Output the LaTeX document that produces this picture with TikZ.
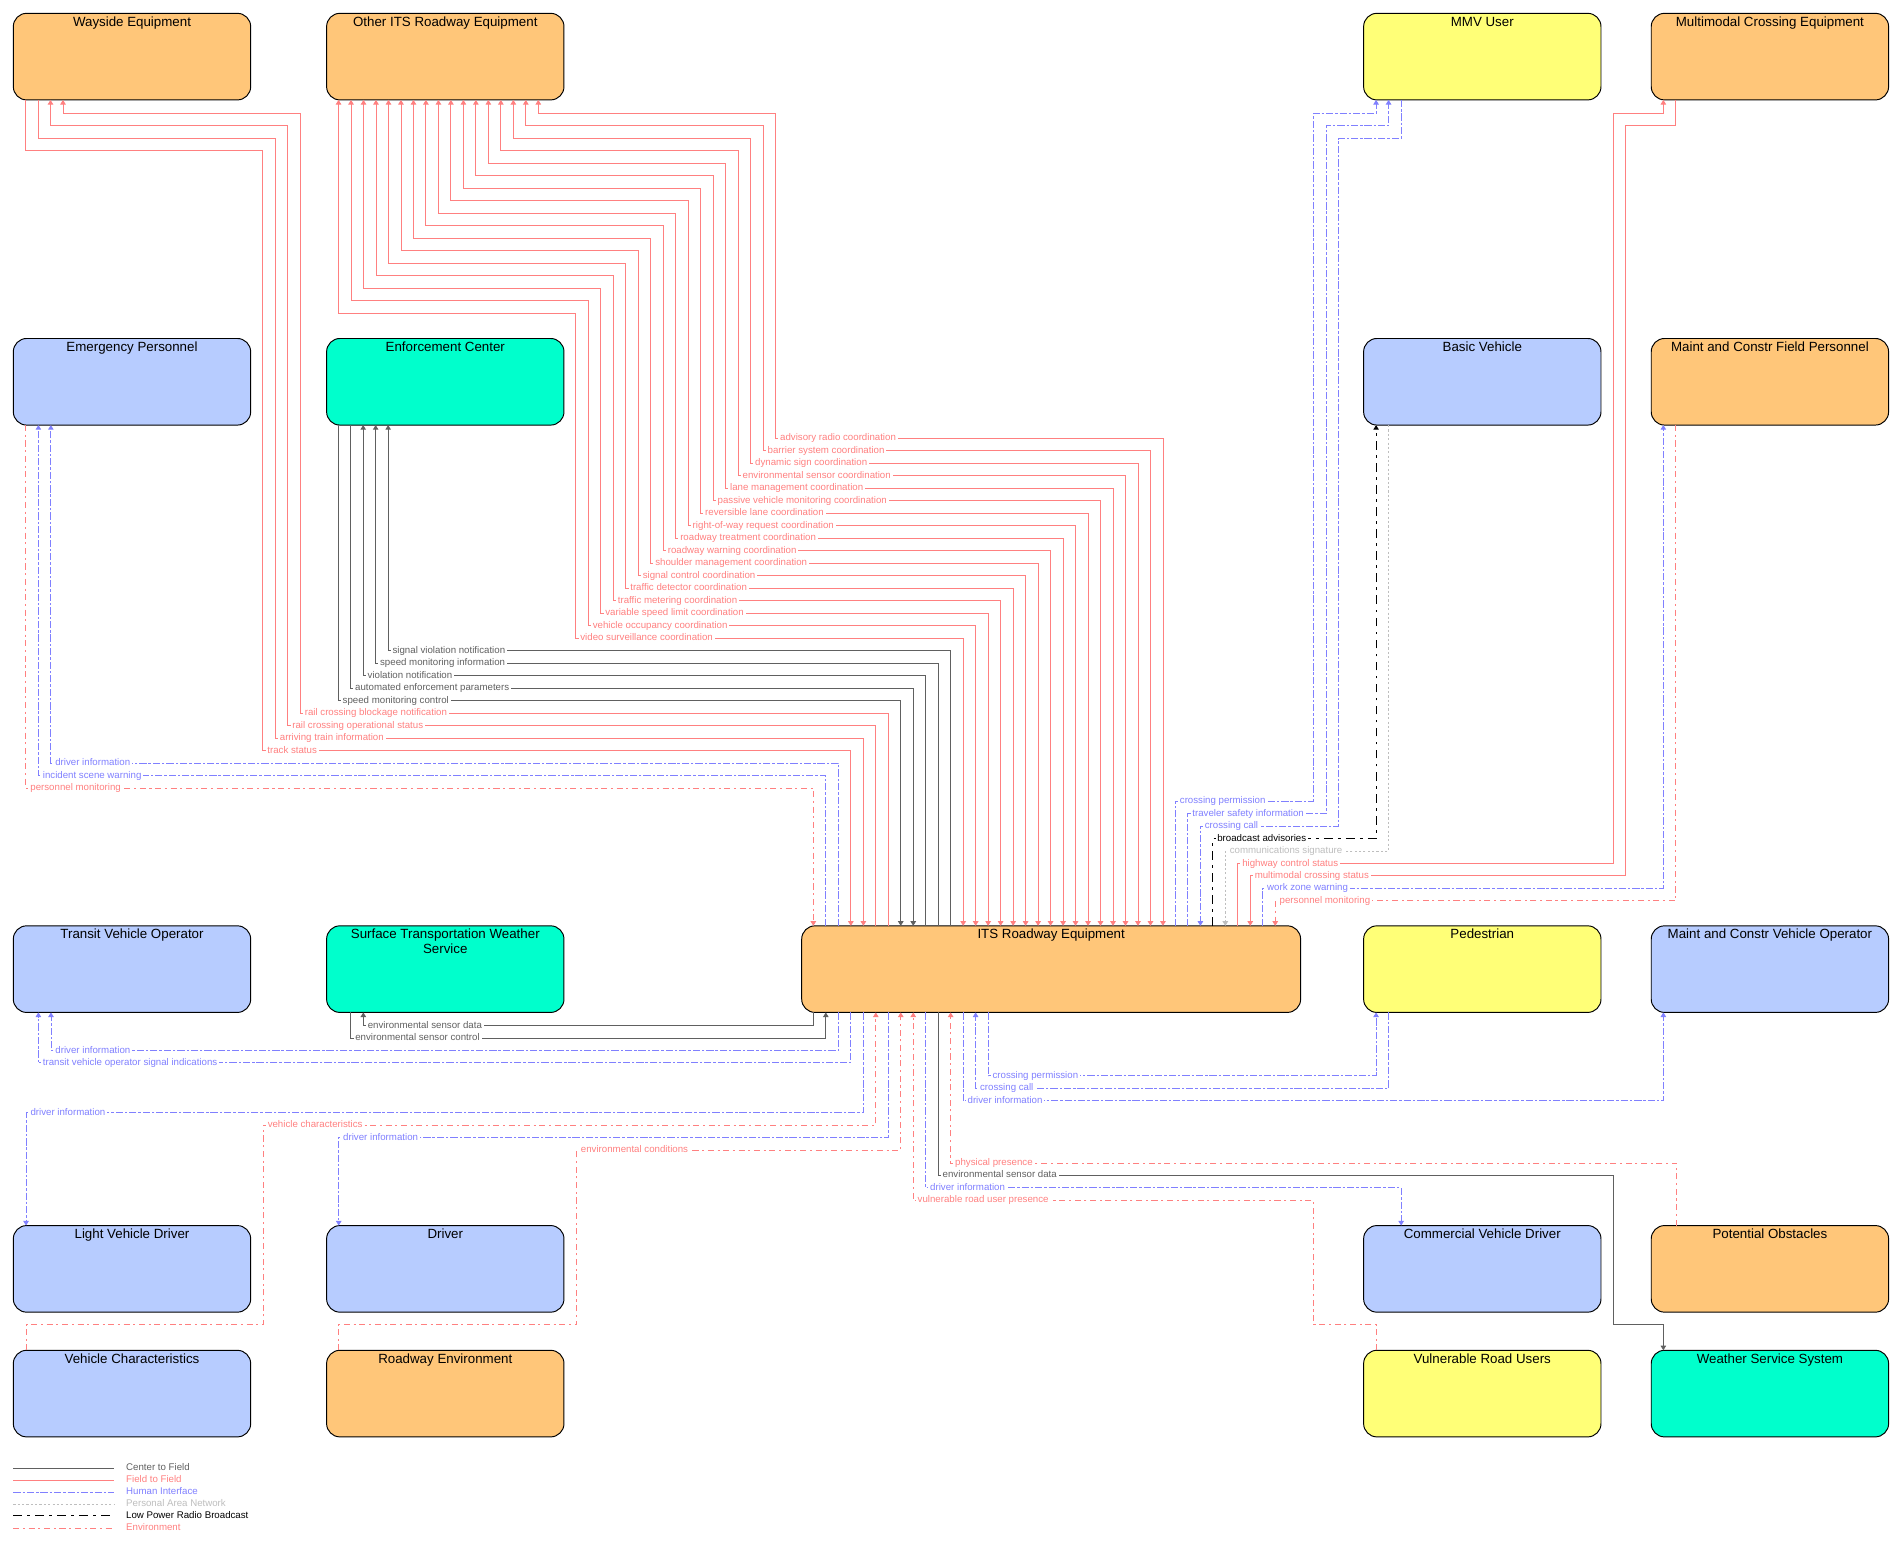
\documentclass[tikz,border=0pt]{standalone}
\usepackage{fontspec}
\setmainfont{Liberation Sans}
\usetikzlibrary{arrows.meta}
\definecolor{orF}{RGB}{255,198,121}
\definecolor{blF}{RGB}{183,204,255}
\definecolor{yeF}{RGB}{255,255,119}
\definecolor{teF}{RGB}{0,255,204}
\definecolor{c2fC}{RGB}{96,96,96}
\definecolor{f2fC}{RGB}{255,128,128}
\definecolor{hiC}{RGB}{128,128,255}
\definecolor{panC}{RGB}{190,190,190}
\definecolor{envC}{RGB}{255,128,128}
\newcommand\bxt[2][196]{\parbox[t][71.5pt][t]{#1pt}{\centering\rule{0pt}{10.5pt}#2}}
\def\dd{10.31}
\begin{document}
\begin{tikzpicture}[x=1pt,y=-1pt,>={Triangle[width=4.5pt,length=3.8pt]},
  box/.style={draw=black,line width=0.8pt,rounded corners=11pt,inner sep=0pt,outer sep=0pt,anchor=north west,font=\fontsize{11}{12}\selectfont},
  cl/.style={line width=0.75pt},
  c2f/.style={cl,draw=c2fC},
  f2f/.style={cl,draw=f2fC},
  hi/.style={cl,draw=hiC,dash pattern=on 6pt off 1.6pt on 2pt off 1.6pt},
  pan/.style={cl,draw=panC,dash pattern=on 1.8pt off 1.8pt},
  lprb/.style={cl,draw=black,dash pattern=on 7.2pt off 4.4pt on 2.2pt off 4.4pt},
  env/.style={cl,draw=envC,dash pattern=on 5pt off 3pt on 1.7pt off 3pt},
  lbl/.style={font=\fontsize{8}{9}\selectfont,fill=white,inner xsep=1.5pt,inner ysep=0.6pt,anchor=west,text height=5.8pt,text depth=1.6pt},
  lgt/.style={font=\fontsize{8}{9}\selectfont,inner xsep=1.5pt,inner ysep=0.6pt,anchor=west,text height=5.8pt,text depth=1.6pt}]
\fill[white] (0,0) rectangle (1568.1,1277.5);
\useasboundingbox (0,0) rectangle (1568.1,1277.5);

% ---------- boxes ----------
\node[box,fill=orF] (way)  at (11,11)     {\bxt{Wayside Equipment}};
\node[box,fill=orF] (oits) at (269.7,11)  {\bxt{Other ITS Roadway Equipment}};
\node[box,fill=yeF] (mmv)  at (1126,11)   {\bxt{MMV User}};
\node[box,fill=orF] (mce)  at (1363.5,11) {\bxt{Multimodal Crossing Equipment}};
\node[box,fill=blF] (ep)   at (11,279.5)     {\bxt{Emergency Personnel}};
\node[box,fill=teF] (ec)   at (269.7,279.5)  {\bxt{Enforcement Center}};
\node[box,fill=blF] (bv)   at (1126,279.5)   {\bxt{Basic Vehicle}};
\node[box,fill=orF] (mcfp) at (1363.5,279.5) {\bxt{Maint and Constr Field Personnel}};
\node[box,fill=blF] (tvo)  at (11,764.5)     {\bxt{Transit Vehicle Operator}};
\node[box,fill=teF] (stws) at (269.7,764.5)  {\bxt{Surface Transportation Weather\\Service}};
\node[box,fill=orF] (its)  at (662,764.5)    {\bxt[412]{ITS Roadway Equipment}};
\node[box,fill=yeF] (ped)  at (1126,764.5)   {\bxt{Pedestrian}};
\node[box,fill=blF] (mcvo) at (1363.5,764.5) {\bxt{Maint and Constr Vehicle Operator}};
\node[box,fill=blF] (lvd)  at (11,1012)      {\bxt{Light Vehicle Driver}};
\node[box,fill=blF] (drv)  at (269.7,1012)   {\bxt{Driver}};
\node[box,fill=blF] (cvd)  at (1126,1012)    {\bxt{Commercial Vehicle Driver}};
\node[box,fill=orF] (po)   at (1363.5,1012)  {\bxt{Potential Obstacles}};
\node[box,fill=blF] (vc)   at (11,1115)      {\bxt{Vehicle Characteristics}};
\node[box,fill=orF] (re)   at (269.7,1115)   {\bxt{Roadway Environment}};
\node[box,fill=yeF] (vru)  at (1126,1115)    {\bxt{Vulnerable Road Users}};
\node[box,fill=teF] (wss)  at (1363.5,1115)  {\bxt{Weather Service System}};

% ---------- Other ITS Roadway Equipment ----------
\foreach \k/\t in {0/advisory radio coordination,1/barrier system coordination,2/dynamic sign coordination,3/environmental sensor coordination,4/lane management coordination,5/passive vehicle monitoring coordination,6/reversible lane coordination,7/right-of-way request coordination,8/roadway treatment coordination,9/roadway warning coordination,10/shoulder management coordination,11/signal control coordination,12/traffic detector coordination,13/traffic metering coordination,14/variable speed limit coordination,15/vehicle occupancy coordination,16/video surveillance coordination}{
  \pgfmathsetmacro\xa{444.5-\dd*\k}
  \pgfmathsetmacro\ya{93.6+\dd*\k}
  \pgfmathsetmacro\xb{640.5-\dd*\k}
  \pgfmathsetmacro\yb{362+\dd*\k}
  \pgfmathsetmacro\xc{960.3-\dd*\k}
  \draw[f2f,<->] (\xa,0 |- oits.south) |- (\xb,\ya) |- (\xc,\yb) -- (\xc,0 |- its.north);
  \node[lbl,text=f2fC] (lo\k) at (\xb+2,\yb) {\t};
}

% ---------- Wayside Equipment ----------
\draw[f2f,->] (733.5,0 |- its.north) |- (248,588.8) |- (52,93.6) -- (52,0 |- way.south);
\node[lbl,text=f2fC] (lw0) at (250,588.8) {rail crossing blockage notification};
\draw[f2f,->] (723.2,0 |- its.north) |- (237.7,599.1) |- (41.7,103.9) -- (41.7,0 |- way.south);
\node[lbl,text=f2fC] (lw1) at (239.7,599.1) {rail crossing operational status};
\draw[f2f,->] (31.4,0 |- way.south) |- (227.4,114.2) |- (712.9,609.4) -- (712.9,0 |- its.north);
\node[lbl,text=f2fC] (lw2) at (229.4,609.4) {arriving train information};
\draw[f2f,->] (21.1,0 |- way.south) |- (217.1,124.5) |- (702.6,619.7) -- (702.6,0 |- its.north);
\node[lbl,text=f2fC] (lw3) at (219.1,619.7) {track status};

% ---------- Enforcement Center ----------
\draw[c2f,->] (785,0 |- its.north) |- (320.5,537.3) -- (320.5,0 |- ec.south);
\node[lbl,text=c2fC] (le0) at (322.5,537.3) {signal violation notification};
\draw[c2f,->] (774.7,0 |- its.north) |- (310.2,547.6) -- (310.2,0 |- ec.south);
\node[lbl,text=c2fC] (le1) at (312.2,547.6) {speed monitoring information};
\draw[c2f,->] (764.4,0 |- its.north) |- (299.9,557.9) -- (299.9,0 |- ec.south);
\node[lbl,text=c2fC] (le2) at (301.9,557.9) {violation notification};
\draw[c2f,->] (289.6,0 |- ec.south) |- (754.1,568.2) -- (754.1,0 |- its.north);
\node[lbl,text=c2fC] (le3) at (291.6,568.2) {automated enforcement parameters};
\draw[c2f,->] (279.3,0 |- ec.south) |- (743.8,578.5) -- (743.8,0 |- its.north);
\node[lbl,text=c2fC] (le4) at (281.3,578.5) {speed monitoring control};

% ---------- Emergency Personnel ----------
\draw[hi,->] (692.2,0 |- its.north) |- (42,630.1) -- (42,0 |- ep.south);
\node[lbl,text=hiC] (lp0) at (44,630.1) {driver information};
\draw[hi,->] (681.9,0 |- its.north) |- (31.7,640.4) -- (31.7,0 |- ep.south);
\node[lbl,text=hiC] (lp1) at (33.7,640.4) {incident scene warning};
\draw[env,->] (21.4,0 |- ep.south) |- (671.6,650.7) -- (671.6,0 |- its.north);
\node[lbl,text=envC] (lp2) at (23.4,650.7) {personnel monitoring};

% ---------- right top group ----------
\draw[hi,->] (970.6,0 |- its.north) |- (1084.6,661.5) |- (1136.3,93.6) -- (1136.3,0 |- mmv.south);
\node[lbl,text=hiC] (lr0) at (972.6,661.5) {crossing permission};
\draw[hi,->] (980.9,0 |- its.north) |- (1095,671.8) |- (1146.6,103.9) -- (1146.6,0 |- mmv.south);
\node[lbl,text=hiC] (lr1) at (982.9,671.8) {traveler safety information};
\draw[hi,->] (1157,0 |- mmv.south) |- (1105.3,114.2) |- (991.2,682.1) -- (991.2,0 |- its.north);
\node[lbl,text=hiC] (lr2) at (993.2,682.1) {crossing call};
\draw[lprb,->] (1001.5,0 |- its.north) |- (1136.3,692.4) -- (1136.3,0 |- bv.south);
\node[lbl,text=black] (lr3) at (1003.5,692.4) {broadcast advisories};
\draw[pan,->] (1146.6,0 |- bv.south) |- (1011.8,702.7) -- (1011.8,0 |- its.north);
\node[lbl,text=panC] (lr4) at (1013.8,702.7) {communications signature};
\draw[f2f,->] (1022.1,0 |- its.north) |- (1332.2,713) |- (1373.5,93.6) -- (1373.5,0 |- mce.south);
\node[lbl,text=f2fC] (lr5) at (1024.1,713) {highway control status};
\draw[f2f,->] (1383.8,0 |- mce.south) |- (1342.5,103.9) |- (1032.4,723.3) -- (1032.4,0 |- its.north);
\node[lbl,text=f2fC] (lr6) at (1034.4,723.3) {multimodal crossing status};
\draw[hi,->] (1042.7,0 |- its.north) |- (1373.5,733.6) -- (1373.5,0 |- mcfp.south);
\node[lbl,text=hiC] (lr7) at (1044.7,733.6) {work zone warning};
\draw[env,->] (1383.8,0 |- mcfp.south) |- (1053,743.9) -- (1053,0 |- its.north);
\node[lbl,text=envC] (lr8) at (1055,743.9) {personnel monitoring};

% ---------- bottom group ----------
\draw[c2f,->] (671.6,0 |- its.south) |- (300,846.8) -- (300,0 |- stws.south);
\node[lbl,text=c2fC] (lb0) at (302,846.8) {environmental sensor data};
\draw[c2f,->] (289.7,0 |- stws.south) |- (681.9,857.1) -- (681.9,0 |- its.south);
\node[lbl,text=c2fC] (lb1) at (291.7,857.1) {environmental sensor control};
\draw[hi,->] (692.2,0 |- its.south) |- (42.1,867.4) -- (42.1,0 |- tvo.south);
\node[lbl,text=hiC] (lb2) at (44.1,867.4) {driver information};
\draw[hi,->] (702.5,0 |- its.south) |- (31.7,877.7) -- (31.7,0 |- tvo.south);
\node[lbl,text=hiC] (lb3) at (33.7,877.7) {transit vehicle operator signal indications};
\draw[hi,->] (712.8,0 |- its.south) |- (21.5,919) -- (21.5,0 |- lvd.north);
\node[lbl,text=hiC] (lb4) at (23.5,919) {driver information};
\draw[env,->] (21.5,0 |- vc.north) |- (217.4,1094) |- (723.2,929.3) -- (723.2,0 |- its.south);
\node[lbl,text=envC] (lb5) at (219.4,929.3) {vehicle characteristics};
\draw[hi,->] (733.5,0 |- its.south) |- (279.7,939.6) -- (279.7,0 |- drv.north);
\node[lbl,text=hiC] (lb6) at (281.7,939.6) {driver information};
\draw[env,->] (279.7,0 |- re.north) |- (476,1094) |- (743.8,949.9) -- (743.8,0 |- its.south);
\node[lbl,text=envC] (lb7) at (478,949.9) {environmental conditions};
\draw[env,->] (1136.8,0 |- vru.north) |- (1084.6,1094) |- (754.1,991.2) -- (754.1,0 |- its.south);
\node[lbl,text=envC] (lb8) at (756.1,991.2) {vulnerable road user presence};
\draw[hi,->] (764.4,0 |- its.south) |- (1157,980.9) -- (1157,0 |- cvd.north);
\node[lbl,text=hiC] (lb9) at (766.4,980.9) {driver information};
\draw[c2f,->] (774.7,0 |- its.south) |- (1332.2,970.6) |- (1373.5,1094) -- (1373.5,0 |- wss.north);
\node[lbl,text=c2fC] (lb10) at (776.7,970.6) {environmental sensor data};
\draw[env,->] (1384.5,0 |- po.north) |- (785,960.3) -- (785,0 |- its.south);
\node[lbl,text=envC] (lb11) at (787,960.3) {physical presence};
\draw[hi,->] (795.3,0 |- its.south) |- (1373.5,909) -- (1373.5,0 |- mcvo.south);
\node[lbl,text=hiC] (lb12) at (797.3,909) {driver information};
\draw[hi,->] (1146.6,0 |- ped.south) |- (805.6,898.7) -- (805.6,0 |- its.south);
\node[lbl,text=hiC] (lb13) at (807.6,898.7) {crossing call};
\draw[hi,->] (815.9,0 |- its.south) |- (1136.3,888.4) -- (1136.3,0 |- ped.south);
\node[lbl,text=hiC] (lb14) at (817.9,888.4) {crossing permission};

% ---------- legend ----------
\coordinate (g1a) at (11,1212.5); \coordinate (g1b) at (94,1212.5);
\coordinate (g2a) at (11,1222.3); \coordinate (g2b) at (94,1222.3);
\coordinate (g3a) at (11,1232.1); \coordinate (g3b) at (94,1232.1);
\coordinate (g4a) at (11,1241.9); \coordinate (g4b) at (94,1241.9);
\coordinate (g5a) at (11,1251.7); \coordinate (g5b) at (94,1251.7);
\coordinate (g6a) at (11,1262);   \coordinate (g6b) at (94,1262);
\draw[c2f] (g1a) -- (g1b); \node[lgt,text=c2fC] (t1) at (102.5,1212.5) {Center to Field};
\draw[f2f] (g2a) -- (g2b); \node[lgt,text=f2fC] (t2) at (102.5,1222.3) {Field to Field};
\draw[hi] (g3a) -- (g3b); \node[lgt,text=hiC] (t3) at (102.5,1232.1) {Human Interface};
\draw[pan] (g4a) -- (g4b); \node[lgt,text=panC] (t4) at (102.5,1241.9) {Personal Area Network};
\draw[lprb] (g5a) -- (g5b); \node[lgt,text=black] (t5) at (102.5,1251.7) {Low Power Radio Broadcast};
\draw[env] (g6a) -- (g6b); \node[lgt,text=envC] (t6) at (102.5,1262) {Environment};
\end{tikzpicture}
\end{document}
